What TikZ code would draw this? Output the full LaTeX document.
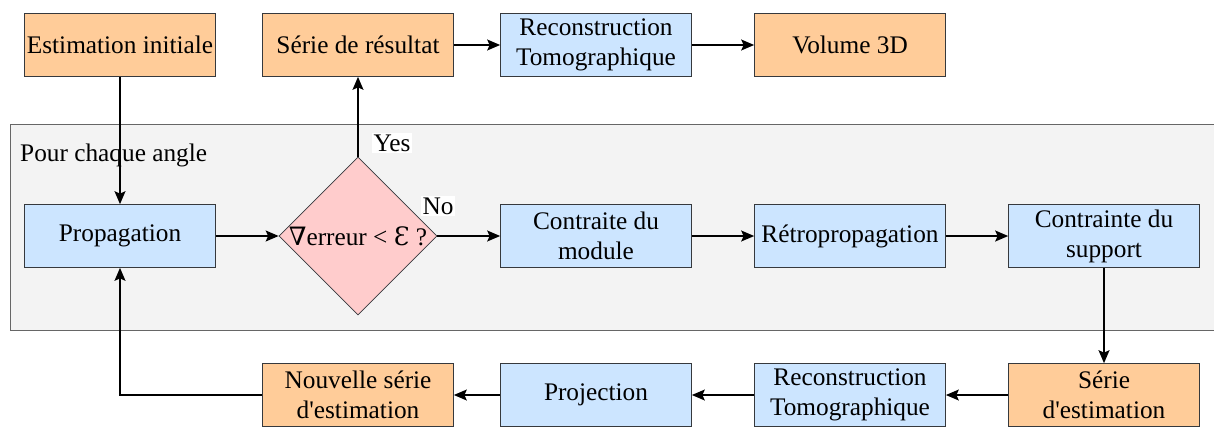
\documentclass[tikz,border=0pt]{standalone}
\usepackage{fontspec}
\setmainfont{Liberation Serif}
\newfontfamily\symbfont{DejaVu Serif}
\usetikzlibrary{arrows.meta,shapes.geometric}

\definecolor{orangebox}{HTML}{FFCC99}
\definecolor{bluebox}{HTML}{CCE5FF}
\definecolor{pinkbox}{HTML}{FFCCCC}
\definecolor{loopgrey}{HTML}{F3F3F3}
\definecolor{framegrey}{HTML}{666666}
\definecolor{boxline}{HTML}{36393D}

\begin{document}
\begin{tikzpicture}[>={Stealth[length=2.6mm,width=2.2mm,inset=0.5mm]}]
    \useasboundingbox (0,0) rectangle (24.28,-8.56);

    % loop frame
    \fill[loopgrey] (0.2,-2.48) rectangle (24.28,-6.6);
    \draw[framegrey] (24.28,-2.48) -| (0.2,-6.6) -- (24.28,-6.6);
    \node[anchor=west, font=\fontsize{14.4}{17}\selectfont] (L) at (0.28,-3.1) {Pour chaque angle};

    \begin{scope}[every node/.style={draw=boxline,rectangle,minimum width=3.82cm,minimum height=1.26cm,inner sep=1pt,align=center,font=\fontsize{14.4}{17}\selectfont}]
        \node[fill=orangebox] (T_1) at (2.4, -0.9) {Estimation initiale};
        \node[fill=orangebox] (T_2) at (7.16, -0.9) {Série de résultat};
        \node[fill=bluebox] (T_3) at (11.92, -0.9) {Reconstruction\\Tomographique};
        \node[fill=orangebox] (T_4) at (17.0, -0.9) {Volume 3D};

        \node[fill=bluebox] (M_1) at (2.4, -4.72) {Propagation};
        \node[fill=pinkbox, shape=diamond, inner sep=0pt, minimum width=3.16cm, minimum height=3.16cm] (M_2) at (7.16, -4.72) {{\symbfont ∇}erreur < {\symbfont Ɛ} ?};
        \node[fill=bluebox] (M_3) at (11.92, -4.72) {Contraite du\\module};
        \node[fill=bluebox] (M_4) at (17.0, -4.72) {Rétropropagation};
        \node[fill=bluebox] (M_5) at (22.08, -4.72) {Contrainte du\\support};

        \node[fill=orangebox] (B_1) at (22.08, -7.9) {Série\\d\textquotesingle estimation};
        \node[fill=bluebox] (B_2) at (17.0, -7.9) {Reconstruction\\Tomographique};
        \node[fill=bluebox] (B_3) at (11.92, -7.9) {Projection};
        \node[fill=orangebox] (B_4) at (7.16, -7.9) {Nouvelle série\\d\textquotesingle estimation};
    \end{scope}

    \begin{scope}[every edge/.style={draw=black,line width=0.8pt}]
        \path[->] (T_1) edge (M_1);
        \path[->] (M_2) edge (T_2);
        \path[->] (T_2) edge (T_3);
        \path[->] (T_3) edge (T_4);
        \path[->] (M_1) edge (M_2);
        \path[->] (M_2) edge (M_3);
        \path[->] (M_3) edge (M_4);
        \path[->] (M_4) edge (M_5);
        \path[->] (M_5) edge (B_1);
        \path[->] (B_1) edge (B_2);
        \path[->] (B_2) edge (B_3);
        \path[->] (B_3) edge (B_4);
    \end{scope}
    \draw[->, line width=0.8pt] (B_4.west) -| (M_1.south);

    \node[fill=white, inner sep=1pt, font=\fontsize{14.4}{17}\selectfont] (yes) at (7.84, -2.86) {Yes};
    \node[fill=white, inner sep=1pt, font=\fontsize{14.4}{17}\selectfont] (no) at (8.76, -4.12) {No};
\end{tikzpicture}
\end{document}
